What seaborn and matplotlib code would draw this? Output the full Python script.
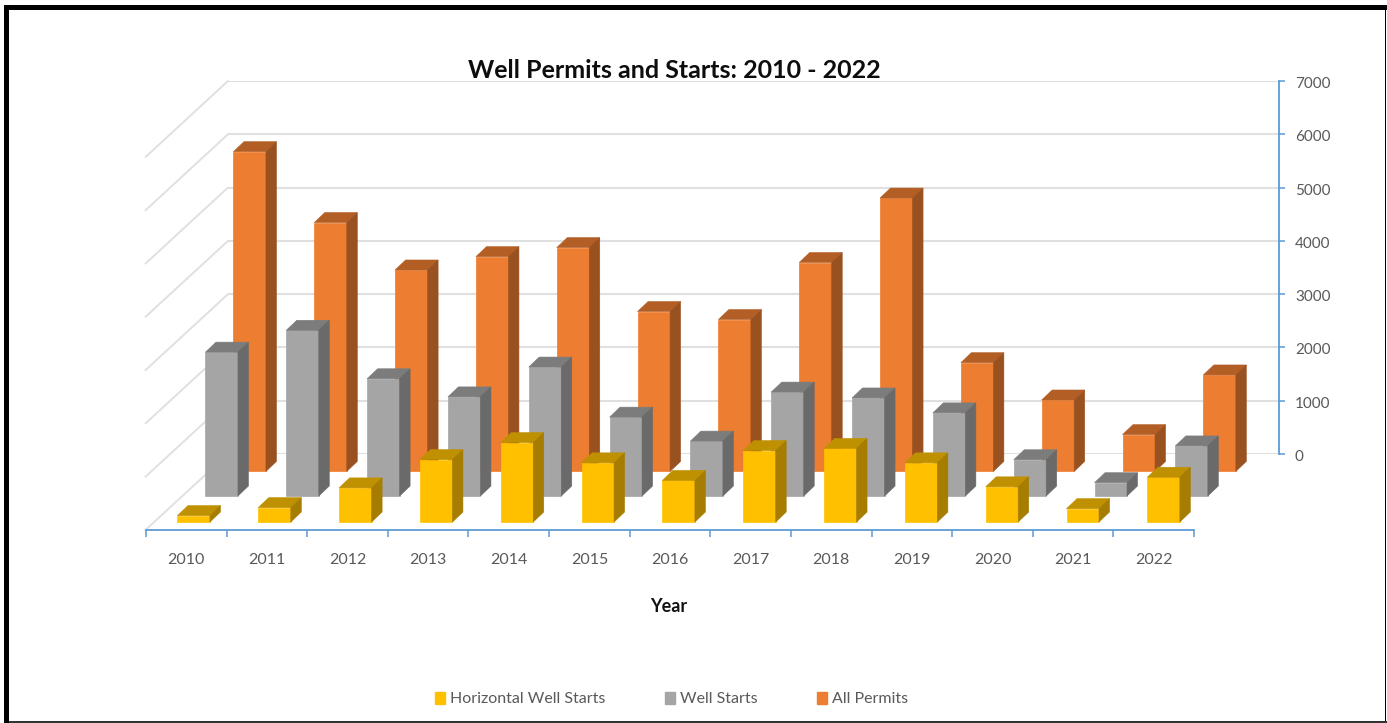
import matplotlib
matplotlib.use("Agg")
import matplotlib.pyplot as plt
import pandas as pd
import seaborn as sns
from matplotlib.lines import Line2D
from matplotlib.patches import Patch, Polygon, Rectangle
from matplotlib.transforms import Affine2D, IdentityTransform

years = ["2010", "2011", "2012", "2013", "2014", "2015", "2016",
         "2017", "2018", "2019", "2020", "2021", "2022"]
all_permits = [6000, 4670, 3780, 4030, 4200, 3000, 2850, 3920, 5130, 2040, 1340, 690, 1810]
well_starts = [2700, 3110, 2200, 1860, 2420, 1480, 1030, 1950, 1840, 1560, 680, 250, 940]
horizontal_starts = [120, 270, 640, 1170, 1490, 1110, 780, 1340, 1380, 1110, 660, 250, 840]
y_ticks = [0, 1000, 2000, 3000, 4000, 5000, 6000, 7000]

W, H = 1387, 723
TEXT = "#595959"
AXIS = "#5B9BD5"
GRID = "#E0E0E0"

sns.set_theme(style="white")
plt.rcParams["font.family"] = ["Lato", "DejaVu Sans"]

fig = plt.figure(figsize=(W / 100, H / 100), dpi=100, facecolor="white")


def box(x0, y_top, x1, y_bottom):
    """Axes rectangle from pixel edges measured from the top-left corner."""
    return [x0 / W, 1 - y_bottom / H, (x1 - x0) / W, (y_bottom - y_top) / H]


# Back wall: value scale, gridlines and the right-hand axis.
ax = fig.add_axes(box(228, 81, 1278.7, 454))
ax.patch.set_alpha(0)
df_frames = {
    "permits": pd.DataFrame({"Year": years, "Count": all_permits}),
    "starts": pd.DataFrame({"Year": years, "Count": well_starts}),
    "horizontal": pd.DataFrame({"Year": years, "Count": horizontal_starts}),
}

# Each series sits on its own row of the floor: (name, faces, shift right, shift down, z).
rows = [
    ("permits", ("#ED7D31", "#B35E25", "#9A5120"), -18.7, 17.4, 3),
    ("starts", ("#A5A5A5", "#7C7C7C", "#6A6A6A"), -46.7, 42.0, 4),
    ("horizontal", ("#FFC000", "#BF9000", "#A67D00"), -74.7, 68.0, 5),
]
DEPTH_X, DEPTH_Y = 10.5, 10.0

for name, (front, top, side), dx, dy, z in rows:
    sns.barplot(data=df_frames[name], x="Year", y="Count", color=front, saturation=1,
                width=32.5 / 80.8, errorbar=None, ax=ax, zorder=z)

ax.set_xlim(-0.5, 12.5)
ax.set_ylim(0, 7000)
ax.set_xlabel("")
ax.set_ylabel("")

for container, (name, (front, top, side), dx, dy, z) in zip(ax.containers, rows):
    shifted = ax.transData + Affine2D().translate(dx, -dy)
    for bar in container:
        bar.set_transform(shifted)
        bar.set_clip_on(False)
        bar.set_zorder(z)
        bar.set_edgecolor(front)
        bar.set_linewidth(0.5)
        x0, x1 = bar.get_x(), bar.get_x() + bar.get_width()
        h = bar.get_height()
        (ax0, ay0), (ax1, ay1) = shifted.transform([(x0, 0), (x1, h)])
        top_face = [(ax0, ay1), (ax1, ay1), (ax1 + DEPTH_X, ay1 + DEPTH_Y), (ax0 + DEPTH_X, ay1 + DEPTH_Y)]
        side_face = [(ax1, ay0), (ax1 + DEPTH_X, ay0 + DEPTH_Y), (ax1 + DEPTH_X, ay1 + DEPTH_Y), (ax1, ay1)]
        for pts, colour in ((top_face, top), (side_face, side)):
            ax.add_patch(Polygon(pts, closed=True, facecolor=colour, edgecolor=colour, linewidth=0.4,
                                 transform=IdentityTransform(), clip_on=False, zorder=z))

for s in ("top", "left", "bottom"):
    ax.spines[s].set_visible(False)
ax.spines["right"].set_color(AXIS)
ax.spines["right"].set_linewidth(1.3)
ax.set_xticks([])
ax.yaxis.tick_right()
ax.set_yticks(y_ticks)
ax.set_yticklabels([str(v) for v in y_ticks])
ax.tick_params(axis="y", length=4.2, width=1.1, color=AXIS, labelcolor=TEXT, labelsize=11,
               pad=7.5, right=True, left=False)
for label in ax.get_yticklabels():
    label.set_transform(label.get_transform() + Affine2D().translate(0, -1.5))
ax.grid(False)
for v in y_ticks:
    ax.axhline(v, color=GRID, lw=1.5, zorder=1)
    (wx, wy) = ax.transData.transform((-0.5, v))
    ax.add_line(Line2D([wx, wx - 82.5], [wy, wy - 76], color=GRID, lw=1.4,
                       transform=IdentityTransform(), clip_on=False, zorder=1))

# Front edge of the floor: year axis with ticks between the categories.
floor = fig.add_axes(box(146, 529, 1194, 530))
floor.patch.set_alpha(0)
floor.set_xlim(-0.5, 12.5)
floor.set_yticks([])
for s in ("top", "left", "right"):
    floor.spines[s].set_visible(False)
floor.spines["bottom"].set_color(AXIS)
floor.spines["bottom"].set_linewidth(1.3)
floor.set_xticks([i - 0.5 for i in range(14)])
floor.set_xticklabels([])
floor.set_xticks(range(13), labels=years, minor=True)
floor.tick_params(axis="x", which="major", length=5, width=1.1, color=AXIS, bottom=True)
floor.tick_params(axis="x", which="minor", length=0, labelcolor=TEXT, labelsize=11.5, pad=16.2)
floor.grid(False)

fig.text(669 / W, 1 - 607 / H, "Year", ha="center", va="center", fontsize=13,
         fontweight="bold", color="#111111")
fig.text(674 / W, 1 - 70.5 / H, "Well Permits and Starts: 2010 - 2022", ha="center", va="center",
         fontsize=18, fontweight="bold", color="#0D0D0D")

handles = [Patch(facecolor=c, edgecolor=c) for c in ("#FFC000", "#A5A5A5", "#ED7D31")]
fig.legend(handles, ["Horizontal Well Starts", "Well Starts", "All Permits"], ncols=3,
           loc="center", bbox_to_anchor=(671.5 / W, 1 - 699 / H), frameon=False, fontsize=11.5,
           labelcolor=TEXT, handlelength=0.62, handleheight=0.78, handletextpad=0.3, columnspacing=3.75)

# Black border round the whole picture.
fig.add_artist(Rectangle((4 / W, 1 - 9.5 / H), 1, 5 / H, transform=fig.transFigure, color="black", lw=0))
fig.add_artist(Rectangle((1384.5 / W, 0), 1.5 / W, 1 - 4.5 / H, transform=fig.transFigure, color="black", lw=0))
fig.add_artist(Rectangle((4 / W, 1 - 722.5 / H), 1, 1.5 / H, transform=fig.transFigure, color="#333333", lw=0))
fig.add_artist(Rectangle((4 / W, 0), 5 / W, 1 - 4.5 / H, transform=fig.transFigure, color="black", lw=0))

fig.savefig("out.png", dpi=100, facecolor="white")
